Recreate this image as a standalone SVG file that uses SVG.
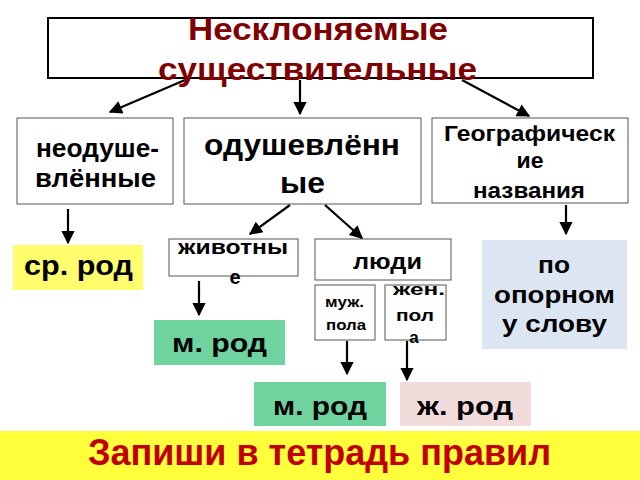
<svg xmlns="http://www.w3.org/2000/svg" width="640" height="480" viewBox="0 0 640 480">
<defs>
<marker id="ah" viewBox="0 0 10 10" refX="9" refY="5" markerWidth="6.5" markerHeight="6" orient="auto" markerUnits="strokeWidth">
<path d="M0,0 L10,5 L0,10 z" fill="#000"/>
</marker>
<style>
text{font-family:"Liberation Sans",Arial,sans-serif;font-weight:bold;text-anchor:middle;fill:#000}
.box{fill:#fff;stroke:#555;stroke-width:1}
.conn line{stroke:#000;stroke-width:2.2;marker-end:url(#ah)}
</style>
</defs>
<rect width="640" height="480" fill="#fff"/>
<g id="title">
<rect x="48" y="18" width="545" height="60" fill="#fff" stroke="#000" stroke-width="2"/>
<text x="318" y="40" font-size="31" textLength="260" lengthAdjust="spacingAndGlyphs" style="fill:#800000">Несклоняемые</text>
<text x="317.5" y="80" font-size="31" textLength="319" lengthAdjust="spacingAndGlyphs" style="fill:#800000">существительные</text>
</g>
<g id="neodush">
<rect class="box" x="17" y="118" width="156" height="86"/>
<text x="97.5" y="157" font-size="26" textLength="123" lengthAdjust="spacingAndGlyphs">неодуше-</text>
<text x="95.5" y="187" font-size="26" textLength="121" lengthAdjust="spacingAndGlyphs">влённые</text>
</g>
<g id="odush">
<rect class="box" x="184" y="118" width="237" height="86"/>
<text x="302" y="155" font-size="29" textLength="196" lengthAdjust="spacingAndGlyphs">одушевлённ</text>
<text x="302.5" y="193" font-size="29" textLength="45" lengthAdjust="spacingAndGlyphs">ые</text>
</g>
<g id="geo">
<rect class="box" x="432" y="118" width="196" height="85"/>
<text x="529.5" y="141" font-size="22" textLength="171" lengthAdjust="spacingAndGlyphs">Географическ</text>
<text x="530" y="168" font-size="22" textLength="27" lengthAdjust="spacingAndGlyphs">ие</text>
<text x="529" y="198" font-size="22" textLength="112" lengthAdjust="spacingAndGlyphs">названия</text>
</g>
<g id="sr">
<rect x="13" y="245" width="130" height="45" fill="#FFFF6E"/>
<text x="78.5" y="275" font-size="27" textLength="109" lengthAdjust="spacingAndGlyphs">ср. род</text>
</g>
<g id="zhiv">
<rect class="box" x="169" y="239" width="129" height="37"/>
<text x="233" y="254" font-size="20" textLength="110" lengthAdjust="spacingAndGlyphs">животны</text>
<text x="235" y="284" font-size="20">е</text>
</g>
<g id="lyudi">
<rect class="box" x="315" y="239" width="136" height="41"/>
<text x="387.5" y="269" font-size="22" textLength="69" lengthAdjust="spacingAndGlyphs">люди</text>
</g>
<g id="muzh">
<rect class="box" x="315" y="285" width="60" height="55"/>
<text x="344.5" y="307" font-size="14" textLength="39" lengthAdjust="spacingAndGlyphs">муж.</text>
<text x="346" y="330" font-size="14" textLength="40" lengthAdjust="spacingAndGlyphs">пола</text>
</g>
<g id="zhen">
<rect class="box" x="385" y="285" width="61" height="55"/>
<text x="419" y="295" font-size="17" textLength="52" lengthAdjust="spacingAndGlyphs">жен.</text>
<text x="415" y="321" font-size="17" textLength="38" lengthAdjust="spacingAndGlyphs">пол</text>
<text x="414" y="343" font-size="17">а</text>
</g>
<g id="opor">
<rect x="482" y="240" width="145" height="109" fill="#DCE6F2"/>
<text x="554" y="273" font-size="24" textLength="32" lengthAdjust="spacingAndGlyphs">по</text>
<text x="554.5" y="303" font-size="24" textLength="121" lengthAdjust="spacingAndGlyphs">опорном</text>
<text x="554.5" y="332" font-size="24" textLength="105" lengthAdjust="spacingAndGlyphs">у слову</text>
</g>
<g id="mrod1">
<rect x="154" y="320" width="131" height="45" fill="#6FD3A0"/>
<text x="219.5" y="352" font-size="26" textLength="95" lengthAdjust="spacingAndGlyphs">м. род</text>
</g>
<g id="mrod2">
<rect x="254" y="382" width="132" height="44" fill="#6FD3A0"/>
<text x="320" y="415" font-size="26" textLength="94" lengthAdjust="spacingAndGlyphs">м. род</text>
</g>
<g id="zhrod">
<rect x="400" y="382" width="131" height="44" fill="#F2DCDB"/>
<text x="465" y="415" font-size="26" textLength="96" lengthAdjust="spacingAndGlyphs">ж. род</text>
</g>
<g id="note">
<rect x="0" y="431" width="640" height="49" fill="#FFFF3C"/>
<text x="319.5" y="465" font-size="36" textLength="463" lengthAdjust="spacingAndGlyphs" style="fill:#C00000">Запиши в тетрадь правил</text>
</g>
<g class="conn" id="connectors">
<line x1="185" y1="80" x2="110" y2="112"/>
<line x1="300" y1="80" x2="300" y2="114"/>
<line x1="462" y1="80" x2="529" y2="116"/>
<line x1="68" y1="209" x2="68" y2="243"/>
<line x1="566" y1="205" x2="566" y2="234"/>
<line x1="290" y1="205" x2="250" y2="234"/>
<line x1="325" y1="205" x2="362" y2="238"/>
<line x1="199" y1="281" x2="199" y2="315"/>
<line x1="347" y1="341" x2="347" y2="374"/>
<line x1="407" y1="341" x2="407" y2="380"/>
</g>
</svg>
